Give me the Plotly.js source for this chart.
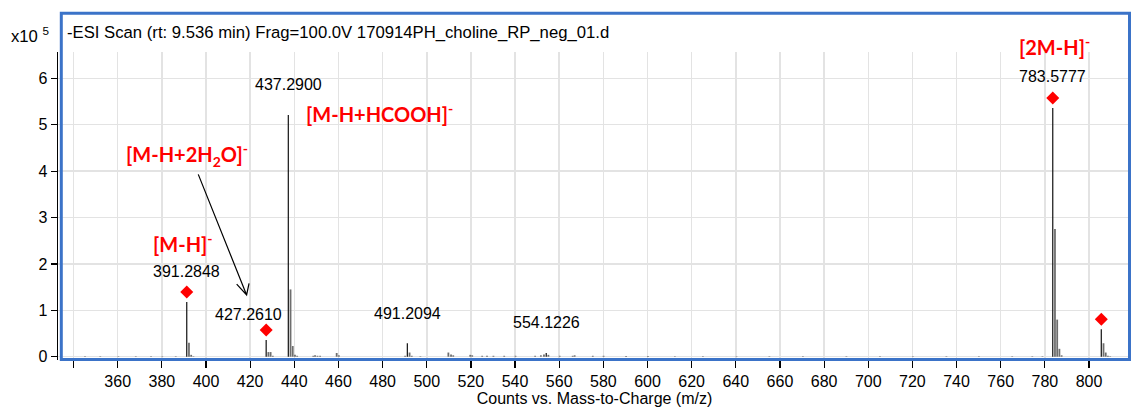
<!DOCTYPE html>
<html>
<head>
<meta charset="utf-8">
<script src="https://cdn.plot.ly/plotly-3.0.1.min.js"></script>
<style>
  html, body { margin: 0; padding: 0; background: #ffffff; }
  #chart { width: 1131px; height: 412px; }
</style>
</head>
<body>
<div id="chart"></div>
<script>
// Main ions (m/z, counts in units of 10^5)
const majorMz     = [391.2848, 427.2610, 437.2900, 491.2094, 554.1226, 783.5777, 805.5606];
const majorCounts = [1.18, 0.36, 5.21, 0.29, 0.08, 5.36, 0.59];

// Isotopes, adducts and baseline peaks
const minorMz = [345.2, 352.1, 360.3, 368.2, 375.1, 380.2, 386.3,
  392.2882, 393.29, 394.3, 428.2644, 429.27, 430.27,
  438.2934, 439.2965, 440.30, 441.3, 448.6, 449.4, 450.5, 451.7,
  459.2, 460.2, 490.2, 492.2128, 493.21, 497.1,
  509.8, 511.0, 512.0, 519.7, 520.6, 525.1, 527.3, 530.2, 535.1, 540.2,
  549.1, 551.7, 553.1, 555.1, 560.2, 566.1, 567.0, 575.2, 580.1,
  590.3, 600.2, 612.4, 625.1, 640.3, 655.2, 670.4, 690.1, 705.3,
  720.2, 735.4, 750.1, 765.2, 774.3, 778.9,
  784.5811, 785.5845, 786.5878, 787.59, 806.5640, 807.5673, 808.57, 809.6];
const minorCounts = [0.01, 0.01, 0.01, 0.01, 0.01, 0.01, 0.01,
  0.30, 0.04, 0.01, 0.10, 0.10, 0.02,
  1.45, 0.23, 0.04, 0.02, 0.02, 0.03, 0.02, 0.02,
  0.08, 0.03, 0.02, 0.09, 0.02, 0.01,
  0.09, 0.05, 0.03, 0.04, 0.03, 0.02, 0.02, 0.02, 0.02, 0.02,
  0.02, 0.03, 0.05, 0.04, 0.02, 0.02, 0.03, 0.02, 0.02,
  0.015, 0.015, 0.01, 0.01, 0.01, 0.01, 0.01, 0.01, 0.01,
  0.01, 0.01, 0.01, 0.01, 0.01, 0.01,
  2.75, 0.80, 0.17, 0.03, 0.29, 0.09, 0.02, 0.01];

// Ions flagged with a diamond
const flaggedMz = [391.2848, 427.2610, 783.5777, 805.5606];

// Tick labels of the m/z axis
const mzTicks = [340, 360, 380, 400, 420, 440, 460, 480, 500, 520, 540, 560, 580, 600,
  620, 640, 660, 680, 700, 720, 740, 760, 780, 800];
const mzTickText = mzTicks.map(v => v === 340 ? ' ' : String(v));
const countTicks = [0, 1, 2, 3, 4, 5, 6];

// Plot frame geometry
const W = 1131, H = 412;
const M = { l: 58, r: 0, t: 52, b: 52 };
const plotW = W - M.l - M.r, plotH = H - M.t - M.b;
const yRange = [-0.071, 6.567];
const xRange = [332.96, 819.02];
const pxPerCount = plotH / (yRange[1] - yRange[0]);
const px = v => (v - M.l) / plotW;          // page x -> paper x
const py = v => (H - M.b - v) / plotH;      // page y -> paper y

function sticks(mz, counts) {
  const x = [], y = [];
  mz.forEach((m, i) => { x.push(m, m, null); y.push(0, counts[i], null); });
  return { x, y };
}

const major = sticks(majorMz, majorCounts);
const minor = sticks(minorMz, minorCounts);

const flagY = flaggedMz.map(m => majorCounts[majorMz.indexOf(m)] + 10 / pxPerCount);

const traces = [
  { type: 'scatter', mode: 'lines', x: minor.x, y: minor.y, connectgaps: false,
    line: { color: '#6e6e6e', width: 1.8 }, hoverinfo: 'skip', showlegend: false },
  { type: 'scatter', mode: 'lines', x: major.x, y: major.y, connectgaps: false,
    line: { color: '#111111', width: 1.2 }, hoverinfo: 'skip', showlegend: false },
  { type: 'scatter', mode: 'markers', x: flaggedMz, y: flagY,
    marker: { symbol: 'diamond', size: 10, color: '#ff0000', line: { width: 0 } },
    cliponaxis: false, hoverinfo: 'skip', showlegend: false }
];

const numFont = { family: 'Liberation Sans, Arial, sans-serif', size: 16, color: '#000000' };
const headFont = { family: 'Liberation Sans, Arial, sans-serif', size: 16.7, color: '#000000' };
const ionFont = { family: 'Lato, Calibri, sans-serif', size: 20, color: '#ff0000', weight: 'bold' };

function numLabel(m, y, xshift) {
  return { xref: 'x', yref: 'y', x: m, y: y, text: m.toFixed(4), showarrow: false,
    xanchor: 'center', yanchor: 'middle', xshift: xshift || 0, font: numFont };
}
function ionLabel(x, y, text, yref) {
  return { xref: 'x', yref: yref || 'y', x: x, y: y, text: text, showarrow: false,
    xanchor: 'center', yanchor: 'middle', font: ionFont };
}

const annotations = [
  { xref: 'paper', yref: 'paper', x: px(65), y: py(33), xanchor: 'left', yanchor: 'middle',
    showarrow: false, font: headFont,
    text: '-ESI Scan (rt: 9.536 min) Frag=100.0V 170914PH_choline_RP_neg_01.d' },
  { xref: 'paper', yref: 'paper', x: px(9), y: py(35), xanchor: 'left', yanchor: 'middle',
    showarrow: false, font: headFont, text: 'x10 <sup>5</sup>' },
  numLabel(391.2848, 1.84),
  numLabel(427.2610, 0.91, -18),
  numLabel(437.2900, 5.87),
  numLabel(491.2094, 0.94),
  numLabel(554.1226, 0.74),
  numLabel(783.5777, 6.04),
  ionLabel(389.8, 2.45, '[M-H]<sup>-</sup>'),
  ionLabel(391.2, 4.34, '[M-H+2H<sub>2</sub>O]<sup>-</sup>'),
  ionLabel(478.4, 5.26, '[M-H+HCOOH]<sup>-</sup>'),
  ionLabel(784.4, py(46), '[2M-H]<sup>-</sup>', 'paper')
];

const shapes = [
  // pointer from the water adduct label down to its peak
  { type: 'path', xref: 'x', yref: 'y', layer: 'above',
    path: 'M396.5,3.93 L418.4,1.33 M413.9,1.565 L418.4,1.33 L419.5,1.58',
    line: { color: '#000000', width: 1.2 } },
  // blue scan frame
  { type: 'rect', xref: 'paper', yref: 'paper', layer: 'above',
    x0: px(61.3), x1: px(1129.5), y0: py(359.5), y1: py(13.3),
    line: { color: '#3b73c8', width: 3 }, fillcolor: 'rgba(0,0,0,0)' }
];

const layout = {
  width: W, height: H,
  margin: M,
  paper_bgcolor: '#ffffff', plot_bgcolor: '#ffffff',
  showlegend: false,
  font: numFont,
  xaxis: {
    range: xRange, tickmode: 'array', tickvals: mzTicks, ticktext: mzTickText,
    ticks: 'outside', ticklen: 7, tickwidth: 1.2, tickcolor: '#000000',
    showgrid: true, gridcolor: '#e3e3e3', gridwidth: 1.5, zeroline: false,
    showline: false, tickfont: numFont,
    title: { text: 'Counts vs. Mass-to-Charge (m/z)', font: numFont, standoff: 3 }
  },
  yaxis: {
    range: yRange, tickmode: 'array', tickvals: countTicks,
    ticks: 'outside', ticklen: 6, tickwidth: 1.2, tickcolor: '#000000',
    showgrid: true, gridcolor: '#e3e3e3', gridwidth: 1.5, zeroline: false,
    showline: true, linecolor: '#000000', linewidth: 1.5, tickfont: numFont
  },
  annotations: annotations,
  shapes: shapes
};

Plotly.newPlot('chart', traces, layout, { staticPlot: true, displayModeBar: false });
</script>
</body>
</html>
